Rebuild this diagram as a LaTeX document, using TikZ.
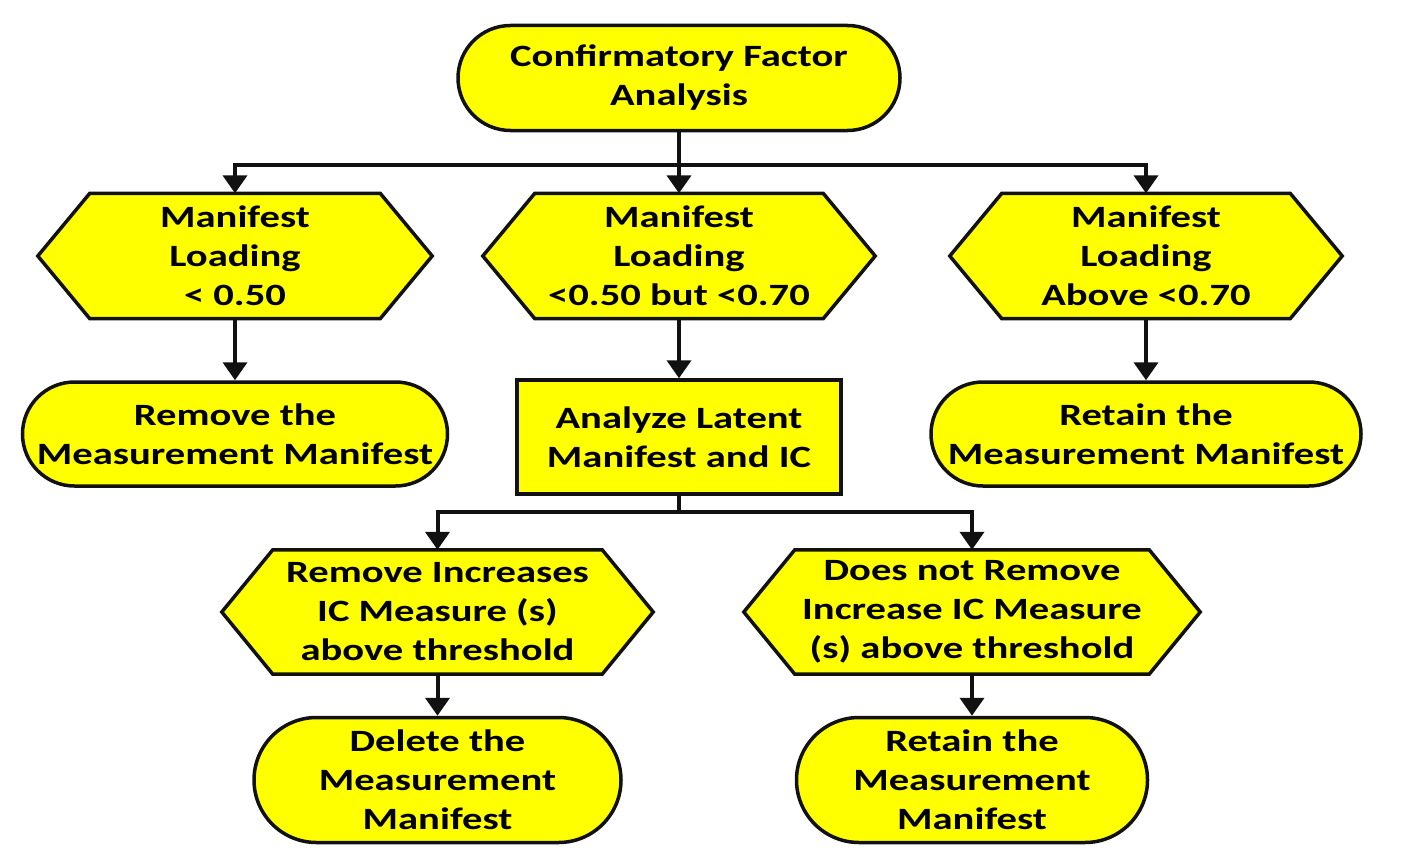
\documentclass[tikz,border=0pt]{standalone}
\usepackage{fontspec}
\setmainfont{Carlito}[FakeStretch=1.31]
\usetikzlibrary{arrows.meta,shapes.misc,backgrounds}
\definecolor{boxyellow}{HTML}{FFFF00}
\definecolor{ink}{HTML}{111111}
\tikzset{
  txt/.style={align=center,font=\fontsize{31}{39}\selectfont\bfseries,text=black,inner sep=0pt},
  term/.style={txt,rounded rectangle,draw=ink,line width=3.5pt,fill=boxyellow},
  procbox/.style={txt,rectangle,draw=ink,line width=3.5pt,fill=boxyellow},
  hexnode/.style={txt,rectangle,draw=none},
  hexborder/.style={draw=ink,line width=3.5pt,fill=boxyellow,line join=miter},
  conn/.style={draw=ink,line width=4pt},
  arr/.style={conn,-{Triangle[width=24pt,length=18pt]}}
}
\newcommand\hexpath[2]{%
  \begin{scope}[on background layer]
  \path[hexborder] ([xshift=#2]#1.north west) -- ([xshift=-#2]#1.north east) -- (#1.east) -- ([xshift=-#2]#1.south east) -- ([xshift=#2]#1.south west) -- (#1.west) -- cycle;
  \end{scope}}
\begin{document}
\begin{tikzpicture}[x=1pt,y=-1pt]
\useasboundingbox (0,0) rectangle (1405,859);
% top
\node[term,minimum width=442pt,minimum height=105pt] (t) at (679,78) {Confirmatory Factor\\Analysis};
% hexagons row 1
\node[hexnode,minimum width=394pt,minimum height=125pt] (h1) at (235,256) {Manifest\\Loading\\< 0.50};
\hexpath{h1}{52pt}
\node[hexnode,minimum width=392pt,minimum height=125pt] (h2) at (679,256) {Manifest\\Loading\\<0.50 but <0.70};
\hexpath{h2}{52pt}
\node[hexnode,minimum width=392pt,minimum height=125pt] (h3) at (1146,256) {Manifest\\Loading\\Above <0.70};
\hexpath{h3}{52pt}
% row 2
\node[term,minimum width=425pt,minimum height=104pt] (r1) at (235,434) {Remove the\\Measurement Manifest};
\node[procbox,minimum width=324pt,minimum height=114pt] (p) at (679,437) {Analyze Latent\\Manifest and IC};
\node[term,minimum width=430pt,minimum height=104pt] (r3) at (1146,434) {Retain the\\Measurement Manifest};
% row 3
\node[hexnode,minimum width=431pt,minimum height=124pt] (h4) at (437.5,612) {Remove Increases\\IC Measure (s)\\above threshold};
\hexpath{h4}{51pt}
\node[hexnode,minimum width=456pt,minimum height=124pt] (h5) at (972,612) {Does not Remove\\Increase IC Measure\\(s) above threshold};
\hexpath{h5}{51pt}
% row 4
\node[term,minimum width=367pt,minimum height=125pt] (d4) at (437.5,780) {Delete the\\Measurement\\Manifest};
\node[term,minimum width=351pt,minimum height=125pt] (d5) at (972,780) {Retain the\\Measurement\\Manifest};
% connectors
\coordinate (j1) at (679,165);
\draw[arr] (t.south) -- (h2.north);
\draw[arr] (j1) -| (h1.north);
\draw[arr] (j1) -| (h3.north);
\draw[arr] (h1.south) -- (r1.north);
\draw[arr] (h2.south) -- (p.north);
\draw[arr] (h3.south) -- (r3.north);
\coordinate (j2) at (679,512);
\draw[conn] (p.south) -- (j2);
\draw[arr] (j2) -| (h4.north);
\draw[arr] (j2) -| (h5.north);
\draw[arr] (h4.south) -- (d4.north);
\draw[arr] (h5.south) -- (d5.north);
\end{tikzpicture}
\end{document}
